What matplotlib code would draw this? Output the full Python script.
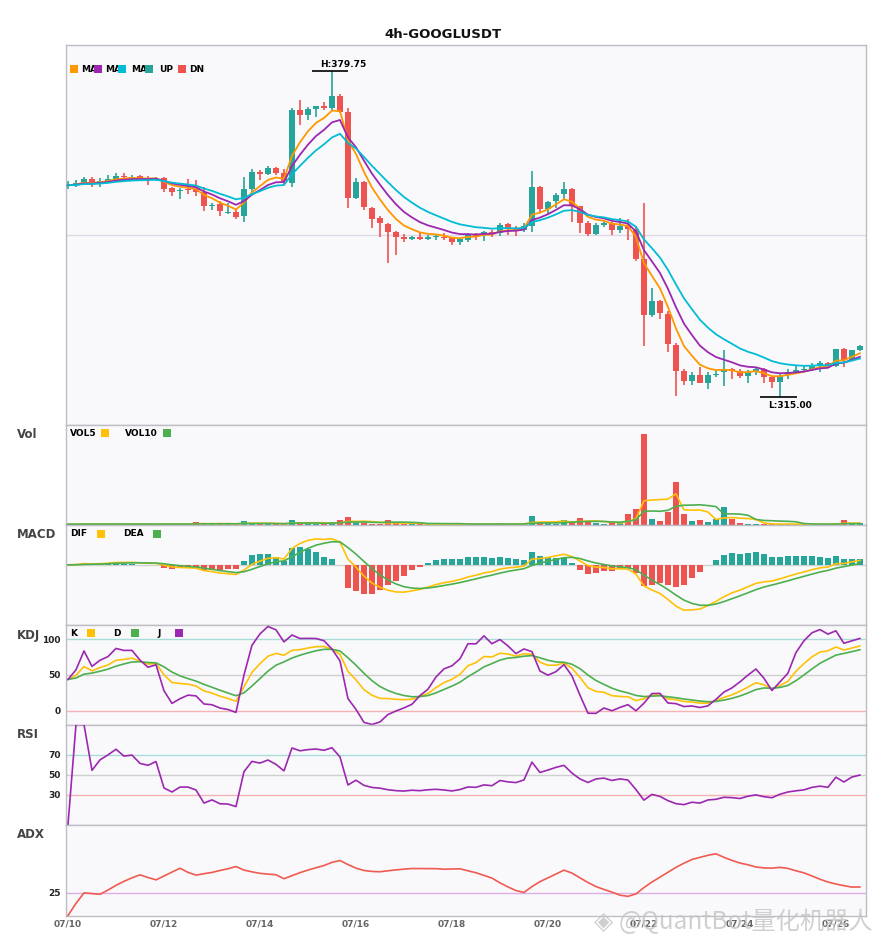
import numpy as np
import pandas as pd
import matplotlib
matplotlib.use("Agg")
import matplotlib.pyplot as plt
from matplotlib.patches import Rectangle
from matplotlib.transforms import Bbox

plt.rcParams['font.family'] = ['DejaVu Sans']

# 4h candles, 07/10 00:00 ... 07/26 12:00
open_ = [357.0, 357.1, 357.4, 358.4, 357.8, 358.0, 358.4, 359.0, 358.5, 359.0,
         358.6, 358.3, 358.5, 356.6, 356.0, 356.4, 356.3, 355.8, 352.9, 353.4,
         351.6, 351.8, 351.0, 356.4, 359.8, 359.4, 360.5, 359.5, 357.6, 372.0,
         371.0, 372.2, 372.8, 372.4, 374.8, 371.7, 354.5, 357.8, 352.6, 350.6,
         349.5, 347.9, 346.9, 346.5, 346.9, 346.5, 346.8, 346.9, 346.7, 345.8,
         346.3, 347.5, 347.3, 347.9, 347.7, 349.5, 348.6, 348.3, 349.1, 356.8,
         352.4, 353.9, 355.4, 356.4, 352.9, 349.7, 347.5, 349.2, 349.5, 348.3,
         349.0, 348.5, 342.5, 331.3, 334.1, 331.6, 325.5, 320.2, 318.2, 319.4,
         317.9, 319.4, 320.0, 320.6, 320.2, 319.2, 320.1, 320.6, 319.0, 318.0,
         319.4, 319.8, 320.4, 320.7, 321.5, 321.9, 321.3, 324.7, 322.5, 324.4]
high = [358.0, 358.2, 358.7, 358.7, 358.5, 359.2, 359.5, 359.5, 359.2, 359.1,
        359.0, 358.8, 358.7, 356.8, 356.5, 358.3, 358.2, 356.8, 353.6, 353.9,
        353.6, 352.2, 358.7, 360.4, 360.2, 360.9, 360.8, 360.3, 372.4, 374.0,
        372.7, 372.9, 373.7, 379.75, 375.3, 372.4, 358.5, 358.0, 352.8, 350.9,
        349.6, 348.1, 347.5, 347.1, 347.6, 347.3, 347.3, 347.6, 346.9, 346.6,
        347.6, 347.7, 348.1, 348.3, 349.6, 349.6, 349.0, 349.7, 359.9, 357.0,
        353.9, 355.5, 357.8, 356.6, 353.0, 350.0, 349.6, 350.2, 349.9, 350.6,
        350.4, 349.0, 353.6, 336.8, 334.4, 332.1, 325.8, 320.6, 320.1, 321.0,
        320.0, 320.2, 324.4, 320.9, 320.6, 320.4, 320.9, 320.9, 319.2, 319.6,
        320.6, 321.5, 321.2, 321.9, 322.2, 322.0, 324.7, 324.8, 324.5, 325.4]
low = [356.4, 356.8, 357.1, 356.7, 356.7, 357.5, 358.0, 358.0, 358.2, 358.2,
       357.2, 358.0, 355.7, 355.0, 354.4, 355.4, 355.0, 351.9, 352.1, 351.0,
       351.4, 350.4, 349.9, 355.5, 358.2, 359.2, 359.2, 357.4, 356.8, 369.1,
       370.1, 370.6, 372.0, 372.0, 371.4, 352.6, 354.3, 352.2, 348.6, 346.8,
       341.7, 343.3, 345.9, 346.3, 346.3, 346.3, 346.3, 346.3, 345.2, 345.3,
       345.9, 346.3, 346.1, 346.8, 347.1, 347.3, 347.1, 347.9, 347.9, 351.7,
       351.4, 352.6, 354.3, 349.9, 347.7, 347.1, 347.3, 348.8, 347.3, 347.6,
       346.3, 342.0, 325.2, 330.9, 330.5, 324.0, 315.3, 317.4, 317.4, 317.8,
       316.6, 319.1, 317.2, 318.6, 318.9, 317.9, 319.5, 317.9, 316.9, 315.0,
       318.6, 319.6, 320.0, 320.2, 320.0, 320.9, 321.1, 321.1, 322.2, 324.2]
close = [357.1, 357.5, 358.4, 357.4, 358.0, 358.4, 359.0, 358.7, 358.8, 358.4,
         358.3, 358.6, 356.4, 355.8, 356.2, 356.2, 355.8, 352.9, 353.2, 351.9,
         351.8, 350.8, 356.4, 359.8, 359.4, 360.6, 359.6, 357.9, 372.0, 371.0,
         372.2, 372.8, 372.4, 374.8, 371.7, 354.5, 357.8, 352.7, 350.4, 349.6,
         347.9, 346.9, 346.5, 346.9, 346.5, 346.9, 347.1, 346.6, 345.9, 346.4,
         347.3, 347.1, 347.9, 347.5, 349.2, 348.6, 348.3, 349.1, 356.8, 352.4,
         353.7, 355.2, 356.4, 352.9, 349.7, 347.5, 349.2, 349.6, 348.3, 349.0,
         348.4, 342.5, 331.3, 334.1, 331.7, 325.6, 320.2, 318.2, 319.4, 317.9,
         319.4, 319.7, 320.6, 320.2, 319.2, 320.1, 320.6, 319.0, 318.0, 319.2,
         320.0, 320.4, 320.7, 321.5, 321.9, 321.3, 324.7, 322.5, 324.4, 325.2]
volume = [1, 1, 2, 1, 1, 2, 2, 1, 1, 1, 1, 1, 2, 1, 1, 1, 7, 3, 1, 2,
          1, 2, 10, 4, 1, 2, 1, 2, 13, 7, 3, 2, 2, 7, 13, 22, 3, 4, 2, 2,
          13, 3, 1, 1, 1, 1, 1, 1, 2, 1, 2, 1, 1, 1, 3, 1, 1, 2, 25, 8,
          3, 2, 13, 10, 19, 8, 4, 1, 6, 3, 31, 46, 271, 16, 10, 37, 127, 31, 10, 13,
          7, 16, 52, 16, 4, 1, 2, 1, 1, 2, 1, 1, 1, 1, 1, 1, 2, 13, 3, 3]

tick_pos = [0, 12, 24, 36, 48, 60, 72, 84, 96]
tick_labels = ["07/10", "07/12", "07/14", "07/16", "07/18", "07/20", "07/22", "07/24", "07/26"]
ma_spans = [5, 8, 13]
macd_fast, macd_slow, macd_sig = 6, 13, 5

UP = "#26a69a"
DN = "#ef5350"
MA_COLORS = ["#ff9800", "#9c27b0", "#00bcd4"]
YEL = "#ffc107"
GRN = "#4caf50"
PUR = "#9c27b0"

o = pd.Series(open_)
h = pd.Series(high)
l = pd.Series(low)
c = pd.Series(close)
v = pd.Series(volume, dtype=float)
n = len(c)
x = np.arange(n)
up = (c >= o).values
cols = np.where(up, UP, DN)

# indicators
mas = [c.ewm(span=s, adjust=False).mean() for s in ma_spans]

vol5 = v.rolling(5, min_periods=1).mean()
vol10 = v.rolling(10, min_periods=1).mean()

dif = c.ewm(span=macd_fast, adjust=False).mean() - c.ewm(span=macd_slow, adjust=False).mean()
dea = dif.ewm(span=macd_sig, adjust=False).mean()
hist = 2 * (dif - dea)

low9 = l.rolling(9, min_periods=1).min()
high9 = h.rolling(9, min_periods=1).max()
rsv = (c - low9) / (high9 - low9) * 100
k = rsv.ewm(alpha=1 / 3, adjust=False).mean()
d = k.ewm(alpha=1 / 3, adjust=False).mean()
j = 3 * k - 2 * d

delta = c.diff().fillna(0)
gain = delta.clip(lower=0).ewm(alpha=1 / 14, adjust=False).mean()
loss = (-delta.clip(upper=0)).ewm(alpha=1 / 14, adjust=False).mean()
rsi = (100 * gain / (gain + loss)).fillna(0)

prev_c = c.shift(1)
tr = pd.concat([h - l, (h - prev_c).abs(), (l - prev_c).abs()], axis=1).max(axis=1)
upm = h.diff()
dnm = -l.diff()
pdm = pd.Series(np.where((upm > dnm) & (upm > 0), upm, 0.0))
mdm = pd.Series(np.where((dnm > upm) & (dnm > 0), dnm, 0.0))
atr = tr.ewm(span=14, adjust=False).mean()
pdi = 100 * pdm.ewm(span=14, adjust=False).mean() / atr
mdi = 100 * mdm.ewm(span=14, adjust=False).mean() / atr
dx = (100 * (pdi - mdi).abs() / (pdi + mdi)).fillna(0)
adx = dx.ewm(span=14, adjust=False).mean()

# layout (pixel based)
W, H = 885, 950
fig = plt.figure(figsize=(W / 100, H / 100), dpi=100)
fig.patch.set_facecolor("white")


def fx(px):
    return px / W


def fy(py):
    return 1 - py / H


L, R = 66, 865.5
panels = [(45, 424.5), (424.5, 524.5), (524.5, 624.5), (624.5, 724.5), (724.5, 824.5), (824.5, 915.5)]
axes = []
for top, bot in panels:
    ax = fig.add_axes([fx(L), fy(bot), (R - L) / W, (bot - top) / H])
    ax.set_facecolor("#f9f9fb")
    for s in ax.spines.values():
        s.set_color("#bdbdc6")
        s.set_linewidth(1.0)
    ax.set_xlim(-0.25, 99.7)
    ax.tick_params(length=0)
    ax.set_xticks([])
    ax.set_yticks([])
    axes.append(ax)
ax_p, ax_v, ax_m, ax_k, ax_r, ax_a = axes

# price
ax_p.vlines(x, l, h, color=cols, lw=1.2, zorder=2)
body_lo = np.minimum(o, c)
body_h = np.maximum((c - o).abs(), 0.12)
ax_p.bar(x, body_h, bottom=body_lo, width=0.72, color=cols, zorder=3)
for ma, col in zip(mas, MA_COLORS):
    ax_p.plot(x, ma, color=col, lw=1.3, zorder=4)
hi, lo = max(high), min(low)
rng = hi - lo
ax_p.set_ylim(lo - 0.083 * rng, hi + 0.08 * rng)
ax_p.axhline(np.mean(ax_p.get_ylim()), color="#dcd8e4", lw=1, zorder=1)
ih, il = int(np.argmax(high)), int(np.argmin(low))
ax_p.hlines(hi, ih - 2.5, ih + 2.0, color="black", lw=1.2, zorder=5)
ax_p.text(ih - 1.5, hi + 0.5, f"H:{hi:.2f}", fontsize=6.5, fontweight="bold", ha="left", va="bottom")
ax_p.hlines(lo, il - 2.5, il + 2.1, color="black", lw=1.2, zorder=5)
ax_p.text(il - 1.5, lo - 0.7, f"L:{lo:.2f}", fontsize=6.5, fontweight="bold", ha="left", va="top")

# volume
ax_v.bar(x, v, width=0.72, color=cols, zorder=3)
ax_v.plot(x, vol5, color=YEL, lw=1.2, zorder=4)
ax_v.plot(x, vol10, color=GRN, lw=1.2, zorder=4)
ax_v.set_ylim(0, v.max() * 1.107)

# macd
ax_m.axhline(0, color="#d2d2d2", lw=1, zorder=1)
ax_m.bar(x, hist, width=0.72, color=np.where(hist >= 0, UP, DN), zorder=3)
ax_m.plot(x, dif, color=YEL, lw=1.2, zorder=4)
ax_m.plot(x, dea, color=GRN, lw=1.2, zorder=4)
mlo = min(dif.min(), dea.min(), hist.min())
mhi = max(dif.max(), dea.max(), hist.max())
mr = mhi - mlo
ax_m.set_ylim(mlo - 0.2 * mr, mhi + 0.2 * mr)

# kdj
for lvl, col in [(100, "#a9dcd6"), (50, "#cfcfcf"), (0, "#f6b3b3")]:
    ax_k.axhline(lvl, color=col, lw=1, zorder=1)
ax_k.plot(x, k, color=YEL, lw=1.2, zorder=4)
ax_k.plot(x, d, color=GRN, lw=1.2, zorder=4)
ax_k.plot(x, j, color=PUR, lw=1.2, zorder=4)
klo = min(k.min(), d.min(), j.min())
khi = max(k.max(), d.max(), j.max())
ax_k.set_ylim(klo, khi + 0.02 * (khi - klo))
ax_k.set_yticks([0, 50, 100])

# rsi
for lvl, col in [(70, "#a9dcd6"), (50, "#cfcfcf"), (30, "#f6b3b3")]:
    ax_r.axhline(lvl, color=col, lw=1, zorder=1)
ax_r.plot(x, rsi, color=PUR, lw=1.2, zorder=4)
ax_r.set_ylim(0, 100)
ax_r.set_yticks([30, 50, 70])

# adx
ax_a.axhline(25, color="#dcaee6", lw=1, zorder=1)
ax_a.plot(x, adx, color="#f05a50", lw=1.2, zorder=4)
ax_a.set_ylim(0, 100)
ax_a.set_yticks([25])

for ax in (ax_k, ax_r, ax_a):
    ax.tick_params(axis="y", length=0, pad=4, labelsize=6.5, labelcolor="#222222")
    for t in ax.get_yticklabels():
        t.set_fontweight("bold")

ax_a.set_xticks(tick_pos)
ax_a.set_xticklabels(tick_labels, fontsize=6.5, fontweight="bold", color="#666666")
ax_a.tick_params(axis="x", length=0, pad=3)

# titles and panel names
fig.text(fx(443), fy(34), "4h-GOOGLUSDT", fontsize=9.5, fontweight="bold", ha="center", va="center", color="#111111")
for name, py in [("Vol", 435), ("MACD", 535), ("KDJ", 635), ("RSI", 735), ("ADX", 835)]:
    fig.text(fx(17), fy(py), name, fontsize=8.5, fontweight="bold", color="#444444", ha="left", va="center")


def square(px, py, col, z):
    fig.patches.append(Rectangle((fx(px), fy(py + 4)), 8 / W, 8 / H, transform=fig.transFigure,
                                 facecolor=col, edgecolor="none", zorder=z, figure=fig))


def label(px, py, s, z, clip_to=None):
    t = fig.text(fx(px), fy(py), s, fontsize=6.5, fontweight="bold", ha="left", va="center", zorder=z)
    if clip_to is not None:
        # the next legend square hides the tail of the label
        t.set_clip_box(Bbox([[px, H - py - 10], [clip_to, H - py + 10]]))
        t.set_clip_on(True)


# price legend: square first, then text; next square sits on the text tail
items = [(70, 81, MA_COLORS[0], f"MA{ma_spans[0]}"), (94, 105, MA_COLORS[1], f"MA{ma_spans[1]}"),
         (118, 131, MA_COLORS[2], f"MA{ma_spans[2]}"), (145, 159, UP, "UP"), (178, 189, DN, "DN")]
for i, (sx, tx, col, s) in enumerate(items):
    square(sx, 69, col, 10 + 2 * i)
    nxt = items[i + 1][0] + 2 if i < 3 else None
    label(tx, 69, s, 11 + 2 * i, clip_to=nxt)

# indicator legends: text first, then square
for py, entries in [(433, [(70, 101, "VOL5", YEL), (125, 163, "VOL10", GRN)]),
                    (533.5, [(70, 97, "DIF", YEL), (123, 153, "DEA", GRN)]),
                    (633, [(70, 87, "K", YEL), (113, 131, "D", GRN), (157, 175, "J", PUR)])]:
    for tx, sx, s, col in entries:
        label(tx, py, s, 10)
        square(sx, py, col, 10)

# watermark
fig.text(fx(594), fy(922), "\u25c8", fontsize=18, color="#c4c4c4", ha="left", va="center", alpha=0.8)
fig.text(fx(619), fy(922), "@QuantBot量化机器人", fontsize=17.5, color="#c4c4c4", alpha=0.8,
         family=["Noto Sans CJK SC", "DejaVu Sans"], ha="left", va="center")

fig.savefig("out.png", dpi=100)
